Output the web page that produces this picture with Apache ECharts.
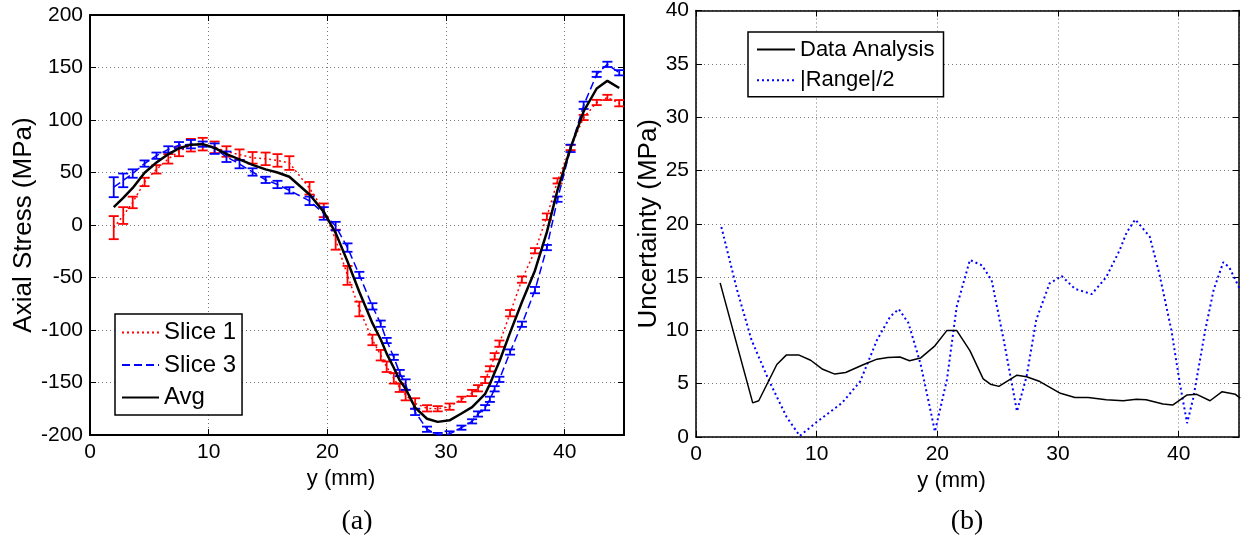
<!DOCTYPE html>
<html>
<head>
<meta charset="utf-8">
<script src="https://cdn.jsdelivr.net/npm/echarts@6/dist/echarts.min.js"></script>
<style>
html,body{margin:0;padding:0;background:#fff;}
#chart{width:1244px;height:551px;}
</style>
</head>
<body>
<div id="chart"></div>
<script>
// ---------- Data (panel a) ----------
const stressX = [2.0, 2.8, 3.6, 4.6, 5.6, 6.6, 7.5, 8.5, 9.5, 10.5, 11.5, 12.6, 13.7, 14.8, 15.8, 16.8, 18.5, 19.7, 20.7, 21.7, 22.7, 23.8, 24.5, 25.0, 25.6, 26.1, 26.6, 27.4, 28.4, 29.3, 30.3, 31.3, 32.2, 32.7, 33.3, 33.7, 34.1, 34.5, 35.4, 36.4, 37.5, 38.5, 39.4, 40.5, 41.6, 42.7, 43.6, 44.6];
const slice1 = [-2.5, 9, 21.5, 41, 53, 63, 70, 76, 77, 74, 70, 67, 64, 63, 61.5, 59, 35, 14, -14, -48, -80, -109.5, -124, -135, -146, -155, -162, -170, -174.6, -175, -173, -166, -160, -155.5, -147.6, -137, -125, -113, -84, -52, -24.5, 8, 42, 73.8, 102.4, 116.7, 121.5, 116];
const slice1Err = [11, 8, 5.5, 4, 4, 4.5, 4.5, 6, 6, 5.5, 5, 5, 5.5, 6, 6, 6.5, 6, 6.5, 9.5, 9, 7, 5, 5, 5, 5, 4, 5, 5, 3, 2.5, 3, 2.5, 3, 3, 3, 2.5, 3, 3, 3, 3, 2.5, 3, 2.5, 2.5, 2.5, 2.5, 2.5, 3];
const slice3 = [36, 42.5, 49, 58.5, 66, 72, 76, 77, 77, 72.7, 65, 58, 50.5, 43, 38.6, 33, 23, 11, -1, -21.5, -47.6, -77.5, -94, -110, -126, -141, -152, -178, -194.5, -200, -199, -193, -187, -180, -174, -166, -156, -147, -121, -94.5, -62, -21.5, 24.6, 73, 114, 143.5, 153, 145];
const slice3Err = [9.5, 6.5, 4, 3, 3, 3, 3, 4, 2.5, 5, 5, 4, 3.5, 3, 3.5, 3, 4, 6, 4, 4, 3, 3, 3, 2.5, 2.5, 3, 5, 3, 2.5, 2, 2.5, 2, 2, 2.5, 2.5, 2.5, 2.5, 2.5, 2.5, 2.5, 3, 2.5, 2.5, 3.5, 3.5, 2.5, 2.5, 2.5];
const avgStress = [17, 25.8, 35.3, 49.8, 59.5, 67.5, 73, 76.5, 77, 73.4, 67.5, 62.5, 57.3, 53, 50, 46, 29, 12.5, -7.5, -34.8, -63.8, -93.5, -109, -122.5, -136, -148, -156, -174, -184.5, -187.5, -186, -179.5, -173.5, -167.8, -160.8, -151.5, -140.5, -130, -102.5, -73.3, -43.3, -6.8, 33.3, 73.4, 108.2, 130, 137.3, 130.5];

// ---------- Data (panel b) ----------
const daX = [2.0, 4.7, 5.2, 6.7, 7.5, 8.5, 9.5, 10.5, 11.5, 12.4, 13.9, 15.0, 15.9, 16.9, 17.7, 18.6, 19.8, 20.8, 21.6, 22.7, 23.8, 24.4, 25.1, 26.6, 27.4, 28.5, 30.2, 31.4, 32.5, 34.0, 35.4, 36.5, 37.3, 38.7, 39.5, 40.7, 41.5, 42.6, 43.6, 44.7, 45.1];
const daY = [14.45, 3.2, 3.4, 6.8, 7.7, 7.7, 7.2, 6.35, 5.9, 6.05, 6.8, 7.3, 7.45, 7.5, 7.15, 7.4, 8.55, 10.0, 10.0, 8.1, 5.45, 4.95, 4.75, 5.8, 5.65, 5.2, 4.1, 3.7, 3.7, 3.5, 3.4, 3.55, 3.5, 3.1, 3.0, 3.95, 4.0, 3.4, 4.25, 4.0, 3.65];
const rangeX = [2.1, 3.4, 4.6, 6.0, 7.5, 8.6, 10.0, 12.1, 13.6, 15.0, 16.1, 16.8, 17.6, 18.6, 19.3, 19.8, 20.8, 21.6, 22.7, 23.7, 24.5, 25.5, 26.6, 27.4, 28.2, 29.3, 30.3, 31.4, 32.8, 34.0, 35.1, 35.7, 36.4, 37.6, 38.4, 39.4, 40.1, 40.7, 41.2, 42.2, 42.9, 43.7, 44.2, 45.1];
const rangeY = [19.7, 13.8, 9.1, 5.4, 1.9, 0.1, 1.4, 3.2, 5.2, 9.1, 11.3, 12.0, 10.7, 6.9, 3.2, 0.5, 5.4, 12.2, 16.6, 16.1, 14.7, 9.1, 2.4, 5.7, 11.0, 14.4, 15.1, 13.9, 13.4, 15.0, 17.5, 19.2, 20.4, 18.8, 15.3, 10.0, 5.0, 1.3, 3.6, 10.0, 13.8, 16.4, 15.9, 13.8];

// ---------- Labels ----------
const leftNames = ['Slice 1', 'Slice 3', 'Avg'];
const rightNames = ['Data Analysis', '|Range|/2'];
const xName = 'y (mm)';
const yNameLeft = 'Axial Stress (MPa)';
const yNameRight = 'Uncertainty (MPa)';
const panelLabels = ['(a)', '(b)'];

const FONT = 'Liberation Sans, Arial, Helvetica, sans-serif';
const zip = (xs, ys) => xs.map((x, i) => [x, ys[i]]);
const zip3 = (xs, ys, es) => xs.map((x, i) => [x, ys[i], es[i]]);

function errRender(color) {
  return function (params, api) {
    const x = api.value(0), y = api.value(1), e = api.value(2);
    const top = api.coord([x, y + e]);
    const bot = api.coord([x, y - e]);
    const cs = params.coordSys;
    const yMin = cs.y, yMax = cs.y + cs.height;
    const hw = 5;
    const st = { stroke: color, lineWidth: 1.8 };
    const children = [];
    const t = Math.max(top[1], yMin), b = Math.min(bot[1], yMax);
    if (b > t) children.push({ type: 'line', shape: { x1: top[0], y1: t, x2: top[0], y2: b }, style: st });
    if (top[1] >= yMin - 0.5 && top[1] <= yMax + 0.5) children.push({ type: 'line', shape: { x1: top[0] - hw, y1: top[1], x2: top[0] + hw, y2: top[1] }, style: st });
    if (bot[1] >= yMin - 0.5 && bot[1] <= yMax + 0.5) children.push({ type: 'line', shape: { x1: bot[0] - hw, y1: bot[1], x2: bot[0] + hw, y2: bot[1] }, style: st });
    return { type: 'group', children: children };
  };
}

const gridLine = { show: true, lineStyle: { color: '#777', type: [1, 3], width: 1 } };
function mainX(gridIndex, lw) {
  return {
    type: 'value', gridIndex, position: 'bottom', min: 0, max: 45, interval: 10,
    name: xName, nameLocation: 'middle', nameGap: 25,
    nameTextStyle: { fontFamily: FONT, fontSize: 22, color: '#000', padding: [0, 32, 0, 0] },
    axisLine: { show: true, onZero: false, lineStyle: { color: '#000', width: lw } },
    axisTick: { show: true, inside: true, length: 6, lineStyle: { color: '#000', width: 1 } },
    axisLabel: { fontFamily: FONT, fontSize: 21, color: '#000', margin: 7, showMaxLabel: false },
    splitLine: gridLine
  };
}
function topX(gridIndex, lw) {
  return {
    type: 'value', gridIndex, position: 'top', min: 0, max: 45, interval: 10,
    axisLine: { show: true, onZero: false, lineStyle: { color: '#000', width: lw } },
    axisTick: { show: true, inside: true, length: 6, lineStyle: { color: '#000', width: 1 } },
    axisLabel: { show: false }, splitLine: { show: false }
  };
}
function mainY(gridIndex, lw, min, max, interval, name, nameGap) {
  return {
    type: 'value', gridIndex, position: 'left', min, max, interval,
    name, nameLocation: 'middle', nameGap,
    nameTextStyle: { fontFamily: FONT, fontSize: 26, color: '#000' },
    axisLine: { show: true, onZero: false, lineStyle: { color: '#000', width: lw } },
    axisTick: { show: true, inside: true, length: 6, lineStyle: { color: '#000', width: 1 } },
    axisLabel: { fontFamily: FONT, fontSize: 21, color: '#000', margin: 7 },
    splitLine: gridLine
  };
}
function rightY(gridIndex, lw, min, max, interval) {
  return {
    type: 'value', gridIndex, position: 'right', min, max, interval,
    axisLine: { show: true, onZero: false, lineStyle: { color: '#000', width: lw } },
    axisTick: { show: true, inside: true, length: 6, lineStyle: { color: '#000', width: 1 } },
    axisLabel: { show: false }, splitLine: { show: false }
  };
}

const option = {
  animation: false,
  backgroundColor: '#fff',
  grid: [
    { left: 90, top: 15, width: 534, height: 420 },
    { left: 696, top: 9, width: 543, height: 428 }
  ],
  xAxis: [mainX(0, 2), topX(0, 2), mainX(1, 1.5), topX(1, 1.5)],
  yAxis: [
    mainY(0, 2, -200, 200, 50, yNameLeft, 50),
    rightY(0, 2, -200, 200, 50),
    mainY(1, 1.5, 0, 40, 5, yNameRight, 34),
    rightY(1, 1.5, 0, 40, 5)
  ],
  legend: [
    {
      data: leftNames, orient: 'vertical', left: 115, top: 314,
      backgroundColor: '#fff', borderColor: '#000', borderWidth: 1.5, borderRadius: 0,
      padding: [6, 6, 5, 6], itemWidth: 37, itemHeight: 14, itemGap: 7.5,
      itemStyle: { opacity: 0 },
      textStyle: { fontFamily: FONT, fontSize: 24, color: '#000', lineHeight: 25 },
      selectedMode: false
    },
    {
      data: rightNames, orient: 'vertical', left: 748, top: 32,
      backgroundColor: '#fff', borderColor: '#000', borderWidth: 1.5, borderRadius: 0,
      padding: [5.5, 9, 4.5, 8], itemWidth: 38, itemHeight: 14, itemGap: 6.7,
      itemStyle: { opacity: 0 },
      textStyle: { fontFamily: FONT, fontSize: 22, color: '#000', lineHeight: 24 },
      selectedMode: false
    }
  ],
  graphic: [
    { type: 'text', style: { text: panelLabels[0], font: '28px "Liberation Serif", "Times New Roman", serif', fill: '#000', x: 357, y: 522, align: 'center', verticalAlign: 'middle' } },
    { type: 'text', style: { text: panelLabels[1], font: '28px "Liberation Serif", "Times New Roman", serif', fill: '#000', x: 967, y: 522, align: 'center', verticalAlign: 'middle' } }
  ],
  series: [
    { name: 'Slice 1', type: 'line', xAxisIndex: 0, yAxisIndex: 0, data: zip(stressX, slice1), symbol: 'none', z: 2,
      lineStyle: { color: '#ff0000', type: [2, 3], width: 1.5 }, itemStyle: { color: '#ff0000' } },
    { name: 'err1', type: 'custom', xAxisIndex: 0, yAxisIndex: 0, data: zip3(stressX, slice1, slice1Err), renderItem: errRender('#ff0000'), z: 2, silent: true },
    { name: 'Slice 3', type: 'line', xAxisIndex: 0, yAxisIndex: 0, data: zip(stressX, slice3), symbol: 'none', z: 3,
      lineStyle: { color: '#0000ff', type: [8, 4], width: 1.5 }, itemStyle: { color: '#0000ff' } },
    { name: 'err3', type: 'custom', xAxisIndex: 0, yAxisIndex: 0, data: zip3(stressX, slice3, slice3Err), renderItem: errRender('#0000ff'), z: 3, silent: true },
    { name: 'Avg', type: 'line', xAxisIndex: 0, yAxisIndex: 0, data: zip(stressX, avgStress), symbol: 'none', z: 4,
      lineStyle: { color: '#000', width: 2.5 }, itemStyle: { color: '#000' } },
    { name: 'Data Analysis', type: 'line', xAxisIndex: 2, yAxisIndex: 2, data: zip(daX, daY), symbol: 'none', z: 3,
      lineStyle: { color: '#000', width: 1.5 }, itemStyle: { color: '#000' } },
    { name: '|Range|/2', type: 'line', xAxisIndex: 2, yAxisIndex: 2, data: zip(rangeX, rangeY), symbol: 'none', z: 2,
      lineStyle: { color: '#0000ff', type: [2, 3], width: 2 }, itemStyle: { color: '#0000ff' } }
  ]
};

const chart = echarts.init(document.getElementById('chart'), null, { renderer: 'canvas' });
chart.setOption(option);
</script>
</body>
</html>
